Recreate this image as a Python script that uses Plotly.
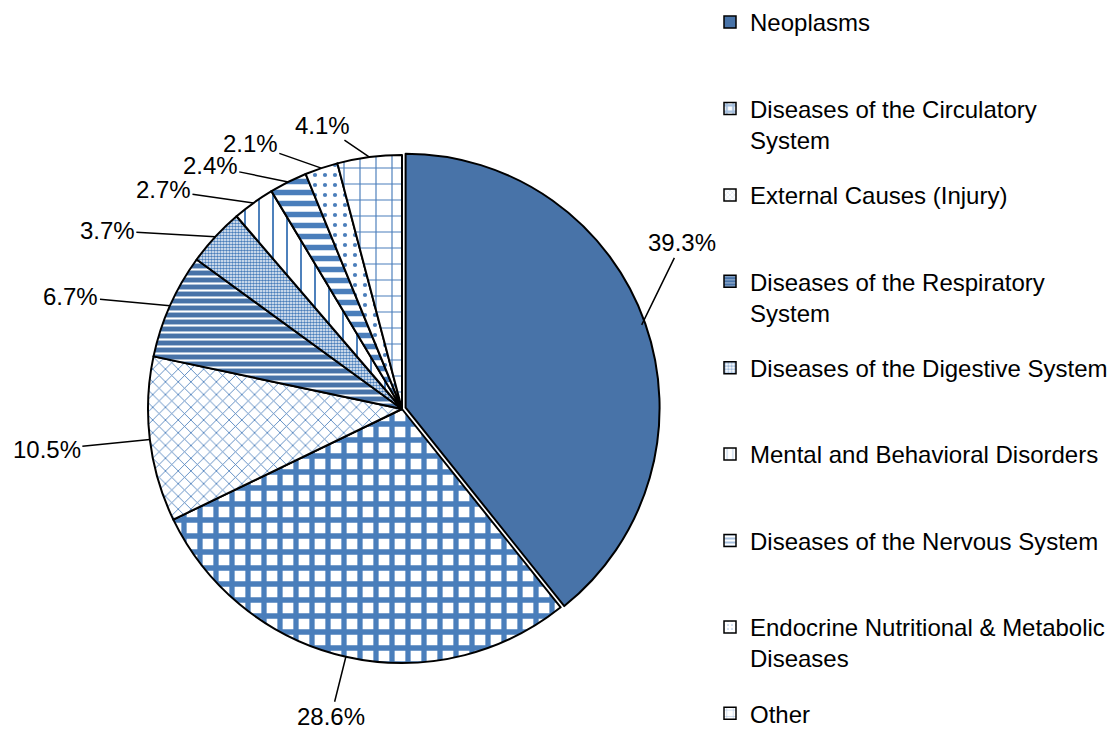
import math
import plotly.graph_objects as go

# ---------------- data ----------------
categories = [
    "Neoplasms",
    "Diseases of the Circulatory System",
    "External Causes (Injury)",
    "Diseases of the Respiratory System",
    "Diseases of the Digestive System",
    "Mental and Behavioral Disorders",
    "Diseases of the Nervous System",
    "Endocrine Nutritional & Metabolic Diseases",
    "Other",
]
legend_text = [
    "Neoplasms",
    "Diseases of the Circulatory<br>System",
    "External Causes (Injury)",
    "Diseases of the Respiratory<br>System",
    "Diseases of the Digestive System",
    "Mental and Behavioral Disorders",
    "Diseases of the Nervous System",
    "Endocrine Nutritional & Metabolic<br>Diseases",
    "Other",
]
values = [39.3, 28.6, 10.5, 6.7, 3.7, 2.7, 2.4, 2.1, 4.1]

# ---------------- style ----------------
W, H = 1108, 730
CX, CY, R = 402, 409, 254       # pie centre / radius in pixels
PULL = [0.015, 0, 0, 0, 0, 0, 0, 0, 0]
BLUE = "#4873A8"
PBLUE = "#4A7EBB"
FONT = "Liberation Sans, Arial, sans-serif"
FS = 24

bg_colors = [BLUE, "white", "white", BLUE, "white", "white", "white", "white", "white"]
fg_colors = [BLUE, PBLUE, PBLUE, "white", PBLUE, PBLUE, PBLUE, PBLUE, PBLUE]
shapes_p = ["", "+", "x", "-", ".", "|", "-", ".", "+"]
sizes_p = [8, 16, 9, 7, 3, 14, 11, 10, 16]
solid_p = [0.3, 0.55, 0.18, 0.3, 0.6, 0.14, 0.5, 0.14, 0.14]

# label offsets (pixels from slice-edge anchor to text centre)
label_offsets = [
    (40, -82), (-15, 60), (-103, 10), (-99, -9), (-108, -6),
    (-90, -13), (-78, -16), (-71, -25), (-47, -32),
]

maxpull = max(PULL)
half = R * (1 + maxpull)
dom_x = [(CX - half) / W, (CX + half) / W]
dom_y = [1 - (CY + half) / H, 1 - (CY - half) / H]

fig = go.Figure()
fig.add_trace(go.Pie(
    labels=categories,
    values=values,
    sort=False,
    direction="clockwise",
    rotation=0,
    pull=PULL,
    textinfo="none",
    hoverinfo="label+percent",
    showlegend=False,
    domain=dict(x=dom_x, y=dom_y),
    marker=dict(
        colors=bg_colors,
        line=dict(color="black", width=2),
        pattern=dict(shape=shapes_p, fgcolor=fg_colors, bgcolor=bg_colors,
                     size=sizes_p, solidity=solid_p, fillmode="replace"),
    ),
))

# legend entries (one group per category so they can be spaced evenly)
n = len(categories)
for i, name in enumerate(categories):
    txt = legend_text[i]
    if "<br>" not in txt and i < n - 1:
        txt = txt + "<br>\u00a0"
    fig.add_trace(go.Bar(
        x=[None], y=[None], name=txt, legendgroup=str(i),
        marker=dict(color=bg_colors[i], line=dict(color="black", width=1.5),
                    pattern=dict(shape=shapes_p[i], fgcolor=fg_colors[i],
                                 bgcolor=bg_colors[i], size=max(4, sizes_p[i] // 2),
                                 solidity=solid_p[i])),
        hoverinfo="skip",
    ))

# percentage labels with leader lines, anchored at the slice mid-angle
total = sum(values)
annotations = []
cum = 0.0
for i, v in enumerate(values):
    mid = (cum + v / 2) / total * 2 * math.pi
    cum += v
    px = CX + R * math.sin(mid)
    py = CY - R * math.cos(mid)
    ax, ay = label_offsets[i]
    annotations.append(dict(
        x=px / W, y=1 - py / H, xref="paper", yref="paper",
        text=f"{v}%", showarrow=True, arrowhead=0, arrowwidth=1.5,
        arrowcolor="black", ax=ax, ay=ay, axref="pixel", ayref="pixel",
        font=dict(family=FONT, size=FS, color="black"),
    ))

fig.update_layout(
    width=W, height=H,
    margin=dict(l=0, r=0, t=0, b=0, autoexpand=False),
    paper_bgcolor="white",
    plot_bgcolor="white",
    font=dict(family=FONT, size=FS, color="black"),
    xaxis=dict(visible=False, domain=[0.98, 0.99]),
    yaxis=dict(visible=False, domain=[0.98, 0.99]),
    showlegend=True,
    legend=dict(
        x=710 / W, xanchor="left", y=1.0, yanchor="top",
        font=dict(family=FONT, size=FS, color="black"),
        tracegroupgap=21, valign="top", itemclick=False,
        bgcolor="rgba(0,0,0,0)",
    ),
    annotations=annotations,
)

fig.write_html(
    "out.html",
    config={"displayModeBar": False},
    post_script=("document.body.style.margin='0';"
                 "document.body.style.overflow='hidden';"
                 "document.documentElement.style.overflow='hidden';"),
)
